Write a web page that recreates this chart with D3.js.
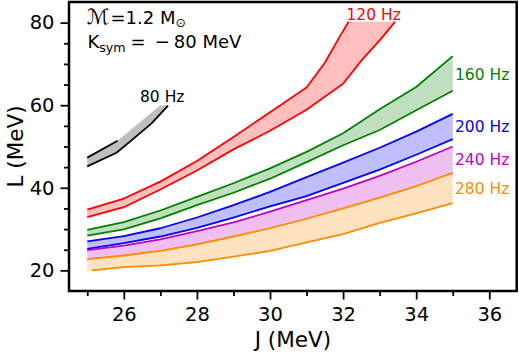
<!DOCTYPE html>
<html>
<head>
<meta charset="utf-8">
<script src="https://cdn.jsdelivr.net/npm/d3@7/dist/d3.min.js"></script>
<style>
  html, body { margin: 0; padding: 0; background: #fff; }
  svg { display: block; }
  text { font-family: "DejaVu Sans", sans-serif; }
</style>
</head>
<body>
<svg id="chart" width="519" height="356"></svg>
<script>
// ---------- data ----------
const J = [25, 26, 27, 28, 29, 30, 31, 32, 33, 34, 35];

// 80 Hz band
const j80lo = [25, 25.8, 26.25, 26.76, 27.21];
const lo80  = [45.2, 48.5, 51.8, 55.6, 59.9];
const j80up = [25, 25.83];
const up80  = [47.3, 51.4];
const j80top = [25, 25.83, 27.0, 27.21];
const top80  = [47.3, 51.4, 60, 60];

// 120 Hz band
const j120up = [25, 26, 27, 28, 29, 30, 31, 31.5, 31.9, 32.15];
const up120  = [34.7, 37.4, 41.5, 46.5, 52.3, 58.3, 64.3, 70.3, 76.5, 80.2];
const j120lo = [25, 26, 27, 28, 29, 30, 31, 32, 32.5, 33, 33.42];
const lo120  = [32.9, 35.3, 39.6, 44.2, 49.3, 53.8, 58.9, 65.2, 70.8, 75.7, 80.2];
const cap120 = 80.2;

// 160 - 280 Hz bands on J grid
const up160 = [29.8, 31.7, 34.5, 37.8, 41.1, 44.7, 48.7, 53.2, 59.0, 64.4, 71.9];
const lo160 = [28.4, 29.9, 32.6, 35.8, 38.8, 42.2, 46.2, 50.3, 54.0, 58.8, 63.5];
const up200 = [27.0, 28.3, 30.2, 32.8, 35.8, 39.0, 42.6, 46.1, 49.7, 53.6, 57.9];
const lo200 = [25.2, 26.6, 28.2, 30.3, 32.8, 35.5, 38.0, 41.2, 44.4, 48.0, 51.8];
const up240 = [24.9, 26.0, 27.5, 29.5, 31.6, 34.2, 37.0, 39.8, 42.9, 46.3, 50.0];
const lo240 = [22.6, 23.5, 24.6, 26.2, 28.0, 30.0, 32.3, 34.8, 37.3, 40.0, 43.1];
const up280 = [22.7, 23.6, 24.7, 26.3, 28.2, 30.2, 32.5, 35.0, 37.6, 40.4, 43.6];
const lo280 = [19.9, 20.8, 21.2, 22.0, 23.3, 24.7, 26.8, 28.8, 31.5, 33.8, 36.3];
const lo280lineStart = [25.12, 20.0];

const labels = ["80 Hz", "120 Hz", "160 Hz", "200 Hz", "240 Hz", "280 Hz"];
const colors = ["#000000", "#ff0000", "#008000", "#0000ff", "#bf00bf", "#ff8c00"];
const fills  = ["#bfbfbf", "#ffbfbf", "#bfdfbf", "#bfbfff", "#efbfef", "#ffe2bf"];

const xTicks = [26, 28, 30, 32, 34, 36];
const xMinor = [25, 27, 29, 31, 33, 35];
const yTicks = [20, 40, 60, 80];
const yMinor = [25, 30, 35, 45, 50, 55, 65, 70, 75];

// ---------- layout ----------
const L = 69, R = 516.7, T = 2, B = 291;
const x = d3.scaleLinear().domain([24.5, 36.75]).range([L, R]);
const y = d3.scaleLinear().domain([15, 85]).range([B, T]);

const svg = d3.select("#chart");
const plot = svg.append("g");

const zip = (xs, ys) => xs.map((v, i) => [v, ys[i]]);
const line = d3.line().x(d => x(d[0])).y(d => y(d[1]));
const LW = 1.8;

function drawPoly(pts, fill) {
  plot.append("path").attr("d", line(pts) + "Z").attr("fill", fill).attr("stroke", "none");
}
function drawLine(pts, col) {
  plot.append("path").attr("d", line(pts)).attr("fill", "none")
      .attr("stroke", col).attr("stroke-width", LW).attr("stroke-linejoin", "round");
}

// 80 Hz
drawPoly(zip(j80top, top80).concat(zip(j80lo, lo80).reverse()), fills[0]);
drawLine(zip(j80up, up80), colors[0]);
drawLine(zip(j80lo, lo80), colors[0]);

// 120 Hz (fill capped at top)
const top120 = zip(j120up, up120).concat([[j120lo[j120lo.length - 1], cap120]]);
drawPoly(top120.concat(zip(j120lo, lo120).reverse()), fills[1]);
drawLine(zip(j120up, up120), colors[1]);
drawLine(zip(j120lo, lo120), colors[1]);

// other bands
const bands = [[up160, lo160], [up200, lo200], [up240, lo240], [up280, lo280]];
const area = d3.area().x((d, i) => x(J[i])).y0(d => y(d[0])).y1(d => y(d[1]));
bands.forEach((b, k) => {
  const c = k + 2;
  const pairs = J.map((_, i) => [b[1][i], b[0][i]]);
  plot.append("path").attr("d", area(pairs)).attr("fill", fills[c]);
  drawLine(zip(J, b[0]), colors[c]);
  let lowPts = zip(J, b[1]);
  if (c === 5) lowPts = [lo280lineStart].concat(lowPts.slice(1));
  drawLine(lowPts, colors[c]);
});

// ---------- axes ----------
const fs = 19.5;
const gx = svg.append("g").attr("transform", `translate(0,${B})`)
  .call(d3.axisBottom(x).tickValues(xTicks).tickSize(8.5).tickPadding(8).tickFormat(d3.format("d")));
const gxm = svg.append("g").attr("transform", `translate(0,${B})`)
  .call(d3.axisBottom(x).tickValues(xMinor).tickSize(5).tickFormat(""));
const gy = svg.append("g").attr("transform", `translate(${L},0)`)
  .call(d3.axisLeft(y).tickValues(yTicks).tickSize(8.5).tickPadding(6).tickFormat(d3.format("d")));
const gym = svg.append("g").attr("transform", `translate(${L},0)`)
  .call(d3.axisLeft(y).tickValues(yMinor).tickSize(5).tickFormat(""));
[gx, gxm, gy, gym].forEach(g => {
  g.select(".domain").remove();
  g.selectAll(".tick line").attr("stroke", "#000").attr("stroke-width", 1.8);
  g.selectAll(".tick text").attr("fill", "#000").style("font-size", fs + "px")
    .style("font-family", "'DejaVu Sans', sans-serif");
});

// frame
svg.append("rect").attr("x", L).attr("y", T).attr("width", R - L).attr("height", B - T)
  .attr("fill", "none").attr("stroke", "#000").attr("stroke-width", 2.5);

// axis titles
svg.append("text").attr("x", (L + R) / 2).attr("y", 347).attr("text-anchor", "middle")
  .style("font-size", "21.5px").text("J (MeV)");
svg.append("text").attr("transform", `translate(23,${(T + B) / 2}) rotate(-90)`)
  .attr("text-anchor", "middle").style("font-size", "21.5px").text("L (MeV)");

// annotations
const a1 = svg.append("text").attr("y", 23.5).style("font-size", "18px");
a1.append("tspan").attr("x", 87).style("font-size", "21px").text("ℳ");
a1.append("tspan").attr("x", 110.5).text("=1.2 M");
a1.append("tspan").attr("dy", 3).style("font-size", "12.6px").text("⊙");
const a2 = svg.append("text").attr("y", 47.5).style("font-size", "18px");
a2.append("tspan").attr("x", 87.5).text("K");
a2.append("tspan").attr("dy", 4).style("font-size", "12.6px").text("sym");
a2.append("tspan").attr("dy", -4).attr("dx", 5).text("=");
a2.append("tspan").attr("dx", 9).text("−");
a2.append("tspan").attr("dx", 4).text("80");
a2.append("tspan").text(" MeV");

// band labels
const labelPos = [[140, 102], [346.5, 20], [455, 80], [455, 132], [455, 165], [455, 194]];
labels.forEach((t, i) => {
  svg.append("text").attr("x", labelPos[i][0]).attr("y", labelPos[i][1])
    .attr("fill", colors[i]).style("font-size", "15.5px").text(t);
});
</script>
</body>
</html>
